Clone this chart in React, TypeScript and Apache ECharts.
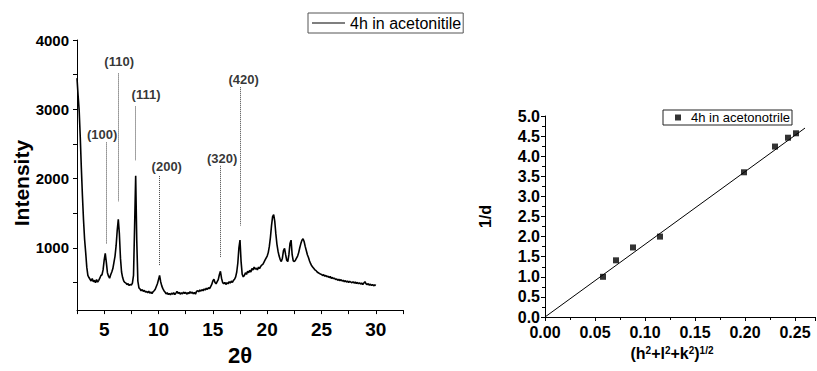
import React, { useEffect, useRef } from 'react';
import * as echarts from 'echarts';

// ---------- Left chart: XRD pattern ----------
const xrdSeriesName = '4h in acetonitile';
const xrdPattern: [number, number][] = [
  [2.5, 3450], [2.6, 3200], [2.7, 2980], [2.8, 2600], [2.9, 2150], [3.0, 1750], [3.1, 1400], [3.2, 1120], [3.3, 930], [3.4, 720],
  [3.5, 600], [3.6, 570], [3.7, 545], [3.8, 520], [3.9, 555], [4.0, 510], [4.1, 530], [4.2, 495], [4.3, 540], [4.4, 505],
  [4.5, 530], [4.6, 560], [4.7, 600], [4.8, 610], [4.9, 680], [5.0, 820], [5.1, 920], [5.2, 790], [5.3, 640], [5.4, 590],
  [5.5, 560], [5.6, 610], [5.7, 650], [5.8, 700], [5.9, 790], [6.0, 880], [6.1, 1030], [6.2, 1250], [6.3, 1410], [6.4, 1200],
  [6.5, 850], [6.6, 650], [6.7, 570], [6.8, 520], [6.9, 500], [7.0, 490], [7.1, 470], [7.2, 480], [7.3, 455], [7.4, 470],
  [7.5, 460], [7.6, 490], [7.7, 600], [7.8, 1300], [7.9, 2040], [8.0, 1100], [8.1, 520], [8.2, 420], [8.3, 405], [8.4, 380],
  [8.5, 395], [8.6, 370], [8.7, 385], [8.8, 360], [8.9, 370], [9.0, 350], [9.1, 375], [9.2, 345], [9.3, 360], [9.4, 340],
  [9.5, 365], [9.6, 380], [9.7, 400], [9.8, 440], [9.9, 480], [10.0, 540], [10.1, 600], [10.2, 510], [10.3, 450], [10.4, 410],
  [10.5, 380], [10.6, 360], [10.7, 335], [10.8, 350], [10.9, 325], [11.0, 340], [11.1, 320], [11.2, 345], [11.3, 330], [11.4, 350],
  [11.5, 325], [11.6, 345], [11.7, 370], [11.8, 340], [11.9, 355], [12.0, 330], [12.1, 350], [12.2, 335], [12.3, 360], [12.4, 340],
  [12.5, 355], [12.6, 330], [12.7, 350], [12.8, 340], [12.9, 365], [13.0, 345], [13.1, 360], [13.2, 335], [13.3, 355], [13.4, 330],
  [13.5, 370], [13.6, 380], [13.7, 365], [13.8, 390], [13.9, 375], [14.0, 395], [14.1, 380], [14.2, 405], [14.3, 390], [14.4, 415],
  [14.5, 400], [14.6, 425], [14.7, 410], [14.8, 440], [14.9, 470], [15.0, 520], [15.1, 545], [15.2, 500], [15.3, 480], [15.4, 510],
  [15.5, 540], [15.6, 610], [15.7, 660], [15.8, 560], [15.9, 500], [16.0, 480], [16.1, 500], [16.2, 470], [16.3, 495], [16.4, 480],
  [16.5, 510], [16.6, 490], [16.7, 520], [16.8, 500], [16.9, 530], [17.0, 545], [17.1, 580], [17.2, 650], [17.3, 780], [17.4, 1000],
  [17.5, 1110], [17.6, 800], [17.7, 620], [17.8, 580], [17.9, 600], [18.0, 640], [18.1, 615], [18.2, 660], [18.3, 640], [18.4, 675],
  [18.5, 650], [18.6, 700], [18.7, 680], [18.8, 720], [18.9, 690], [19.0, 705], [19.1, 680], [19.2, 720], [19.3, 700], [19.4, 730],
  [19.5, 750], [19.6, 760], [19.7, 790], [19.8, 820], [19.9, 850], [20.0, 880], [20.1, 930], [20.2, 1020], [20.3, 1150], [20.4, 1320],
  [20.5, 1450], [20.6, 1480], [20.7, 1380], [20.8, 1200], [20.9, 1050], [21.0, 950], [21.1, 880], [21.2, 830], [21.3, 800], [21.4, 850],
  [21.5, 960], [21.6, 990], [21.7, 900], [21.8, 820], [21.9, 800], [22.0, 900], [22.1, 1060], [22.2, 1110], [22.3, 900], [22.4, 810],
  [22.5, 800], [22.6, 820], [22.7, 850], [22.8, 880], [22.9, 930], [23.0, 1000], [23.1, 1060], [23.2, 1110], [23.3, 1130], [23.4, 1090],
  [23.5, 1020], [23.6, 960], [23.7, 900], [23.8, 860], [23.9, 810], [24.0, 770], [24.1, 740], [24.2, 720], [24.3, 700], [24.4, 680],
  [24.5, 670], [24.6, 650], [24.7, 640], [24.8, 630], [24.9, 620], [25.0, 615], [25.1, 600], [25.2, 610], [25.3, 590], [25.4, 600],
  [25.5, 580], [25.6, 590], [25.7, 570], [25.8, 585], [25.9, 560], [26.0, 570], [26.1, 555], [26.2, 560], [26.3, 540], [26.4, 550],
  [26.5, 530], [26.6, 545], [26.7, 525], [26.8, 540], [26.9, 520], [27.0, 530], [27.1, 510], [27.2, 525], [27.3, 505], [27.4, 520],
  [27.5, 500], [27.6, 515], [27.7, 505], [27.8, 495], [27.9, 510], [28.0, 490], [28.1, 505], [28.2, 485], [28.3, 500], [28.4, 480],
  [28.5, 495], [28.6, 475], [28.7, 490], [28.8, 470], [28.9, 490], [29.0, 510], [29.1, 480], [29.2, 470], [29.3, 480], [29.4, 460],
  [29.5, 475], [29.6, 455], [29.7, 470], [29.8, 450], [29.9, 465], [30.0, 455],
];

const xrdXTicks = [2.5, 5, 7.5, 10, 12.5, 15, 17.5, 20, 22.5, 25, 27.5, 30, 32.5];
const xrdXLabels = [5, 10, 15, 20, 25, 30];
const xrdYTicks = [500, 1000, 1500, 2000, 2500, 3000, 3500, 4000];
const xrdYLabels = [1000, 2000, 3000, 4000];

// Miller index annotations
const peakLabels = ['(100)', '(110)', '(111)', '(200)', '(320)', '(420)'];
const peakLineX = [5.22, 6.29, 7.86, 10.11, 15.72, 17.54];
const peakLineTop = [2521, 3517, 3040, 2035, 2183, 3318];
const peakLineBottom = [1062, 1665, 2257, 739, 854, 1318];
const peakLabelX = [4.81, 6.38, 8.85, 10.76, 15.85, 17.84];
const peakLabelY = [2637, 3688, 3215, 2174, 2290, 3424];

// ---------- Right chart: 1/d vs (h²+l²+k²)^1/2 ----------
const fitSeriesName = '4h in acetonotrile';
const hklRoot = [0.058, 0.071, 0.088, 0.115, 0.199, 0.23, 0.243, 0.251];
const inverseD = [1.0, 1.41, 1.73, 2.0, 3.6, 4.24, 4.46, 4.57];
const fitLineX = [0, 0.26];
const fitLineY = [0, 4.7];
const fitXLabels = [0, 0.05, 0.1, 0.15, 0.2, 0.25];

const FONT = '"Liberation Sans", Arial, Helvetica, sans-serif';

export default function App() {
  const ref = useRef<HTMLDivElement>(null);

  useEffect(() => {
    const chart = echarts.init(ref.current!, null, { renderer: 'svg' });

    const axisLine = { show: true, lineStyle: { color: '#000', width: 1 } };
    const boldLabel = (size: number) => ({
      color: '#000',
      fontFamily: FONT,
      fontWeight: 'bold' as const,
      fontSize: size,
    });

    chart.setOption({
      animation: false,
      backgroundColor: '#fff',
      textStyle: { fontFamily: FONT },
      grid: [
        { left: 77, right: 414, top: 40, bottom: 50, containLabel: false },
        { left: 545, right: 2, top: 116, bottom: 54, containLabel: false },
      ],
      legend: [
        {
          data: [xrdSeriesName],
          left: 308,
          top: 13,
          orient: 'horizontal',
          selectedMode: false,
          borderColor: '#555',
          borderWidth: 1,
          padding: [2, 2, 2, 4],
          icon: 'path://M0 0H33V1H0Z',
          itemWidth: 33,
          itemHeight: 1,
          itemStyle: { color: '#000' },
          textStyle: { color: '#000', fontSize: 16, fontFamily: FONT },
        },
        {
          data: [fitSeriesName],
          left: 663,
          top: 110,
          selectedMode: false,
          borderColor: '#222',
          borderWidth: 1,
          padding: [1, 2, 1, 12],
          itemWidth: 6,
          itemHeight: 6,
          icon: 'rect',
          textStyle: { color: '#000', fontSize: 13, fontFamily: FONT, padding: [0, 0, 0, 5] },
        },
      ],
      xAxis: [
        {
          gridIndex: 0,
          type: 'value',
          min: 2.5,
          max: 32.5,
          interval: 2.5,
          name: '2θ',
          nameLocation: 'middle',
          nameGap: 30,
          nameTextStyle: boldLabel(22),
          axisLine,
          axisTick: { show: true, length: 4, lineStyle: { color: '#000' }, customValues: xrdXTicks },
          axisLabel: { ...boldLabel(19), margin: 10, customValues: xrdXLabels, formatter: (v: number) => String(v) },
          splitLine: { show: false },
        },
        {
          gridIndex: 1,
          type: 'value',
          min: 0,
          max: 0.27,
          interval: 0.05,
          name: '(h{s|2}+l{s|2}+k{s|2}){s|1/2}',
          nameLocation: 'middle',
          nameGap: 28,
          nameTextStyle: {
            ...boldLabel(16),
            padding: [0, 16, 0, 0],
            rich: {
              s: { fontSize: 10, fontWeight: 'bold', fontFamily: FONT, color: '#000', verticalAlign: 'top', lineHeight: 10 },
            },
          },
          axisLine,
          axisTick: { show: true, length: 4, lineStyle: { color: '#000' } },
          minorTick: { show: true, splitNumber: 2, length: 3, lineStyle: { color: '#000' } },
          axisLabel: {
            ...boldLabel(16),
            lineHeight: 12,
            margin: 9,
            customValues: fitXLabels,
            formatter: (v: number) => v.toFixed(2),
          },
          splitLine: { show: false },
          minorSplitLine: { show: false },
        },
      ],
      yAxis: [
        {
          gridIndex: 0,
          type: 'value',
          min: 100,
          max: 4000,
          name: 'Intensity',
          nameLocation: 'middle',
          nameGap: 45,
          nameTextStyle: { ...boldLabel(21), padding: [0, 16, 0, 0] },
          axisLine,
          axisTick: { show: true, length: 4, lineStyle: { color: '#000' }, customValues: xrdYTicks },
          axisLabel: { ...boldLabel(15), margin: 8, customValues: xrdYLabels, formatter: (v: number) => String(v) },
          splitLine: { show: false },
        },
        {
          gridIndex: 1,
          type: 'value',
          min: 0,
          max: 5,
          interval: 0.5,
          name: '1/d',
          nameLocation: 'middle',
          nameGap: 52,
          nameTextStyle: boldLabel(16),
          axisLine,
          axisTick: { show: true, length: 4, lineStyle: { color: '#000' } },
          minorTick: { show: true, splitNumber: 2, length: 3, lineStyle: { color: '#000' } },
          axisLabel: { ...boldLabel(16), lineHeight: 12, margin: 5, formatter: (v: number) => v.toFixed(1) },
          splitLine: { show: false },
          minorSplitLine: { show: false },
        },
      ],
      series: [
        {
          name: xrdSeriesName,
          type: 'line',
          xAxisIndex: 0,
          yAxisIndex: 0,
          data: xrdPattern,
          symbol: 'none',
          lineStyle: { color: '#000', width: 1.6 },
          itemStyle: { color: '#000' },
          markLine: {
            silent: true,
            symbol: ['none', 'none'],
            label: { show: false },
            lineStyle: { type: 'dotted', color: '#444', width: 1 },
            data: peakLineX.map((x, i) => [
              { coord: [x, peakLineTop[i]] },
              { coord: [x, peakLineBottom[i]] },
            ]),
          },
        },
        {
          name: 'peak-labels',
          type: 'scatter',
          xAxisIndex: 0,
          yAxisIndex: 0,
          silent: true,
          symbolSize: 0,
          data: peakLabels.map((name, i) => ({ name, value: [peakLabelX[i], peakLabelY[i]] })),
          label: {
            show: true,
            position: 'inside',
            formatter: (p: any) => p.name,
            ...boldLabel(13),
          },
        },
        {
          name: fitSeriesName,
          type: 'scatter',
          xAxisIndex: 1,
          yAxisIndex: 1,
          symbol: 'rect',
          symbolSize: 6,
          itemStyle: { color: '#000' },
          data: hklRoot.map((x, i) => [x, inverseD[i]]),
          z: 3,
        },
        {
          name: 'linear-fit',
          type: 'line',
          xAxisIndex: 1,
          yAxisIndex: 1,
          symbol: 'none',
          silent: true,
          lineStyle: { color: '#000', width: 1 },
          data: fitLineX.map((x, i) => [x, fitLineY[i]]),
          z: 2,
        },
      ],
    });

    return () => chart.dispose();
  }, []);

  return (
    <div
      ref={ref}
      style={{ position: 'fixed', left: 0, top: 0, width: 817, height: 371, background: '#fff' }}
    />
  );
}
